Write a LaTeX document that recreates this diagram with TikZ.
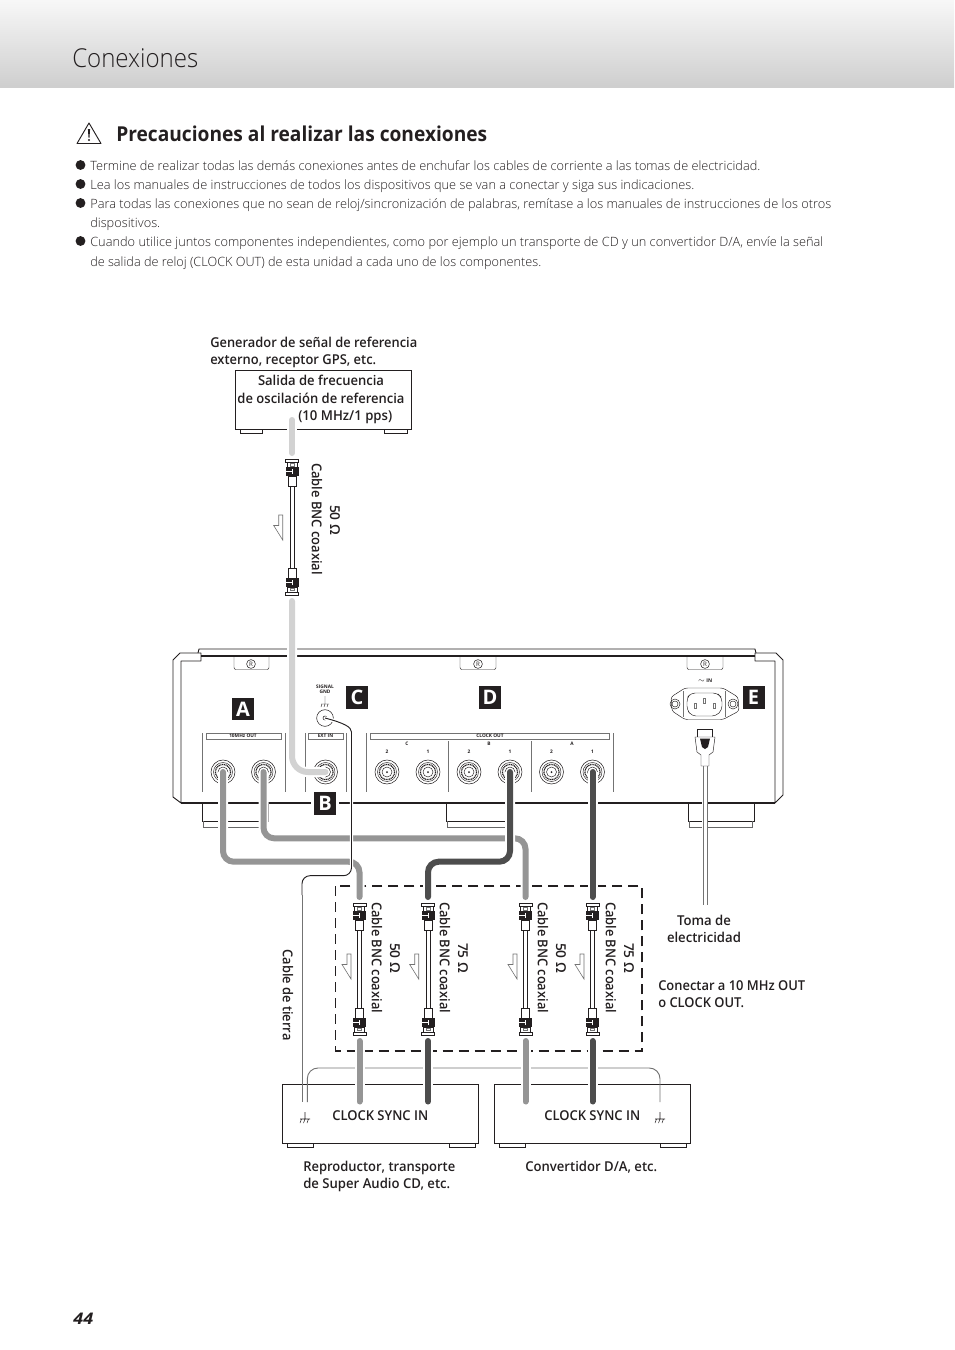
\documentclass[tikz,border=0pt]{standalone}
\usepackage{fontspec}
\usepackage{graphicx}
\setmainfont{Open Sans}
\setsansfont{Open Sans}
\newfontfamily\lightf{Open Sans Light}
\newfontfamily\semif{Open Sans Semibold}
\usetikzlibrary{calc}
\newdimen\pxu \pxu=.75pt
\newcommand\fitw[2]{\resizebox{#1\pxu}{\height}{#2}}
\definecolor{cabmid}{HTML}{959595}
\definecolor{cabdark}{HTML}{4D4D4D}
\definecolor{cablight}{HTML}{D2D2D2}
\definecolor{inkk}{HTML}{231F20}
\tikzset{
  lab/.style={inner sep=0,font=\fontsize{10.2pt}{12pt}\semif,text=inkk},
  body/.style={inner sep=0,anchor=base west,font=\fontsize{9.6pt}{12pt}\lightf,text=inkk},
  tiny/.style={inner sep=0,font=\fontsize{3.6pt}{4pt}\selectfont\bfseries,text=inkk},
  bigsq/.style={fill=inkk,text=white,inner sep=0,minimum width=16.5pt,minimum height=17pt,font=\fontsize{15pt}{16pt}\selectfont\bfseries},
  bul/.style={circle,fill=inkk,inner sep=0,minimum size=7.4pt},
  cable/.style={line width=4.5pt,line cap=round,preaction={draw=white,line width=7.5pt,line cap=butt}},
  thinw/.style={line width=.7pt,draw=inkk},
  fine/.style={line width=.35pt,draw=inkk},
  hair/.style={line width=.3pt,draw=black!55},
  devbox/.style={draw=inkk,line width=.7pt,fill=white},
  jackr/.style={circle,draw=inkk,line width=.4pt,inner sep=0,minimum size=18pt,fill=white},
  halo/.style={preaction={draw=white,line width=2.6pt}},
}
% BNC connector head, drawn from its cap (0,0) toward +y
\newcommand\bnchead{%
  \draw[fine,fill=white] (-6.5,0) rectangle (6.5,3);
  \draw[fine,fill=white] (-5,3) rectangle (5,8);
  \draw[hair] (-2,4.5) rectangle (2,7);
  \fill[inkk] (-6.5,8) rectangle (6.5,17);
  \draw[white,line width=.6pt] (-6.5,12.5) -- (0,12.5) (0,10) -- (0,15);
  \draw[fine,fill=white] (-4,17) rectangle (4,27);
}
\newcommand\bnccable[3]{%
  \draw[fine,fill=white] ({#1-2},{#2+27}) rectangle ({#1+2},{#3-27});
  \begin{scope}[shift={(#1,#2)}]\bnchead\end{scope}
  \begin{scope}[shift={(#1,#3)},yscale=-1]\bnchead\end{scope}
}
% half arrow, right edge x, top y
\newcommand\halfarrow[3][1]{%
  \draw[hair,line width=.45pt,fill=white] (#2-4,#3) -- (#2,#3) -- (#2,#3+25) -- (#2-9,#3+10.5) -- (#2-4,#3+10.5) -- cycle;
}
\newcommand\gndsym[2]{%
  \draw[inkk,line width=.4pt] (#1,#2) -- (#1,#2+7) (#1-5,#2+7) -- (#1+5,#2+7)
    (#1-3.5,#2+7) -- (#1-5,#2+11) (#1,#2+7) -- (#1-1.5,#2+11) (#1+3.5,#2+7) -- (#1+2,#2+11);
}
\newcommand\jack[3]{%
  \node[jackr,minimum size=18pt] (#1) at (#2,#3) {};
  \draw[fine] (#2,#3) circle (9.5);
  \draw[inkk,line width=.9pt,dash pattern=on .8pt off .5pt] (#2,#3) circle (7.6);
  \draw[fine] (#2,#3) circle (5);
  \fill[inkk] (#2,#3) circle (1);
}
\newcommand\rtab[3]{%
  \draw[fine,rounded corners=1.5pt] (#1,656) -- (#1,669.5) -- (#2,669.5) -- (#2,656);
  \draw[line width=.4pt,draw=inkk] (#3,664) circle (4.4);
  \node[inner sep=0,font=\fontsize{4.6pt}{5pt}\selectfont,text=inkk] (rm#3) at (#3,664) {R};
}
\newcommand\foot[2]{%
  \draw[fine,line width=.6pt] (#1,804) -- (#1,821) -- (#2,821) -- (#2,804);
  \draw[draw=black!60,line width=.6pt] (#1+1.5,821) -- (#1+1.5,827) -- (#2-1.5,827) -- (#2-1.5,821);
}
\begin{document}
\begin{tikzpicture}[x=.75pt,y=-.75pt]
\path[use as bounding box] (0,0) rectangle (954,1350);
% header band
\shade[top color=white!97!black,bottom color=white!81!black] (0,0) rectangle (954,87);
\node[anchor=base west,inner sep=0,font=\fontsize{19.5pt}{22pt}\lightf,text=inkk] (title) at (72,67) {\fitw{126}{Conexiones}};
% caution heading
\draw[inkk,line width=.7pt,line join=round] (89,123) -- (101,143.5) -- (77,143.5) -- cycle;
\fill[inkk] (87.9,129) -- (90.1,129) -- (89.5,137.5) -- (88.5,137.5) -- cycle;
\fill[inkk] (89,140) circle (1.2);
\node[anchor=base west,inner sep=0,font=\fontsize{15.4pt}{18pt}\selectfont\bfseries,text=inkk] (head) at (116,141) {\fitw{371}{Precauciones al realizar las conexiones}};
% bullets
\node[bul] (b1) at (80.5,165) {};
\node[bul] (b2) at (80.5,184) {};
\node[bul] (b3) at (80.5,203) {};
\node[bul] (b4) at (80.5,241) {};
\node[body] (l1) at (90,170) {\fitw{670}{Termine de realizar todas las demás conexiones antes de enchufar los cables de corriente a las tomas de electricidad.}};
\node[body] (l2) at (90,189) {\fitw{604}{Lea los manuales de instrucciones de todos los dispositivos que se van a conectar y siga sus indicaciones.}};
\node[body] (l3) at (90,208) {\fitw{741}{Para todas las conexiones que no sean de reloj/sincronización de palabras, remítase a los manuales de instrucciones de los otros}};
\node[body] (l4) at (90,227) {\fitw{70}{dispositivos.}};
\node[body] (l5) at (90,246) {\fitw{733}{Cuando utilice juntos componentes independientes, como por ejemplo un transporte de CD y un convertidor D/A, envíe la señal}};
\node[body] (l6) at (90,266) {\fitw{451}{de salida de reloj (CLOCK OUT) de esta unidad a cada uno de los componentes.}};
% reference generator
\node[lab,anchor=base west] (g1) at (210,347) {\fitw{207}{Generador de señal de referencia}};
\node[lab,anchor=base west] (g2) at (210,364) {\fitw{166}{externo, receptor GPS, etc.}};
\draw[devbox] (240,429) rectangle (262.5,433);
\draw[devbox] (384,429) rectangle (407,433);
\draw[devbox] (235.5,370) rectangle (411,429);
\node[lab,anchor=base] (s1) at (321,385) {\fitw{126}{Salida de frecuencia}};
\node[lab,anchor=base] (s2) at (321,403) {\fitw{167}{de oscilación de referencia}};
\node[lab,anchor=base west] (s3) at (298,420) {\fitw{94}{(10 MHz/1 pps)}};
\coordinate (srcout) at (292,420);
\coordinate (srcend) at (292,453);
\bnccable{292}{459}{595}
\halfarrow{282.7}{515}
\node[lab,rotate=-90] (c0a) at (317,519) {\fitw{112}{Cable BNC coaxial}};
\node[lab,rotate=-90] (c0b) at (335,520) {\fitw{30}{50 Ω}};
% main unit
\foot{202}{268}\foot{446}{512}\foot{688}{754}
\draw[inkk,line width=.7pt,line join=round] (198,653) -- (199,649) -- (755,649) -- (756,653);
\draw[inkk,line width=.9pt] (201,656) -- (755,656);
\draw[inkk,line width=.7pt,line join=round] (201,661) -- (181,661) -- (181,803) -- (173,797) -- (173,660) -- (180,653) -- (201,653) -- cycle;
\draw[inkk,line width=.7pt,line join=round] (755,661) -- (775,661) -- (775,803) -- (783,795) -- (783,660) -- (776,653) -- (755,653) -- cycle;
\draw[inkk,line width=1pt] (181,803) -- (775,803);
\rtab{234}{269}{251}\rtab{460}{496}{478}\rtab{687}{723}{705}
% panel labels and dividers
\draw[hair] (205.7,733) rectangle (280.7,739);
\draw[hair] (308,733) rectangle (343,739);
\draw[hair] (370,733) rectangle (609,739);
\draw[hair] (202,733) -- (202,792) (285,733) -- (285,792) (305,733) -- (305,792) (346,733) -- (346,792)
  (366,733) -- (366,792) (448,741) -- (448,792) (530.7,741) -- (530.7,792) (613,733) -- (613,792);
\node[tiny] (t10) at (243,736) {10MHz OUT};
\node[tiny] (tex) at (325.5,736) {EXT IN};
\node[tiny] (tcl) at (490,736) {CLOCK OUT};
\node[tiny] (tC) at (407,744) {C};
\node[tiny] (tB) at (489,744) {B};
\node[tiny] (tA) at (572,744) {A};
\node[tiny] (n1) at (387,752) {2};
\node[tiny] (n2) at (428,752) {1};
\node[tiny] (n3) at (469,752) {2};
\node[tiny] (n4) at (510,752) {1};
\node[tiny] (n5) at (551.5,752) {2};
\node[tiny] (n6) at (592.5,752) {1};
\jack{ja}{223}{772}\jack{jb}{263.5}{772}\jack{jext}{325.5}{772}
\jack{jc2}{387}{772}\jack{jc1}{428}{772}\jack{jb2}{469}{772}\jack{jb1}{510}{772}\jack{ja2}{551.5}{772}\jack{ja1}{592.5}{772}
% signal gnd
\node[tiny] (sg1) at (325,687) {SIGNAL};
\node[tiny] (sg2) at (325,692) {GND};
\draw[inkk,line width=.3pt] (325,696) -- (325,704) (321,704) -- (329,704) (322,704) -- (321,707) (325,704) -- (324,707) (328,704) -- (327,707);
\node[circle,draw=inkk,line width=.4pt,inner sep=0,minimum size=12.5pt] (gt) at (325,718) {};
\draw[inkk,line width=.4pt] (325,718) circle (2);
% inlet
\node[tiny,font=\fontsize{3.8pt}{4pt}\selectfont\bfseries] (acin) at (705,681) {$\sim$ IN};
\draw[fine,line join=round,rounded corners=2pt] (685,688) -- (723,688) -- (738,697) -- (739,711) -- (723,719.5) -- (685,719.5) -- (672,711) -- (671,697) -- cycle;
\draw[hair] (683,691) -- (683,717) (725,691) -- (725,717);
\draw[fine,rounded corners=3pt] (691,693) -- (717,693) -- (722,698) -- (722,710) -- (716,716) -- (692,716) -- (687,710) -- (687,698) -- cycle;
\draw[fine] (675,704) circle (5) (675,704) circle (3) (733,704) circle (5) (733,704) circle (3);
\draw[hair] (703,698.5) rectangle (705.5,703.5) (694,703.5) rectangle (696.5,708.5) (713,703.5) rectangle (715.5,708.5);
% letter tags
\fill[white] (311,800) rectangle (339,806);
\node[bigsq] (A) at (243,709) {A};
\node[bigsq] (B) at (325,803.5) {B};
\node[bigsq] (C) at (357,697.5) {C};
\node[bigsq] (D) at (490,697.5) {D};
\node[bigsq] (E) at (753.5,697.5) {E};
% bottom devices
\draw[devbox] (287,1143) rectangle (313,1147);
\draw[devbox] (449,1143) rectangle (475,1147);
\draw[devbox] (499,1143) rectangle (525,1147);
\draw[devbox] (660,1143) rectangle (686,1147);
\node[draw=inkk,line width=.7pt,fill=white,inner sep=0,minimum width=147pt,minimum height=44.3pt] (dev1) at (380.5,1113.5) {};
\node[draw=inkk,line width=.7pt,fill=white,inner sep=0,minimum width=147pt,minimum height=44.3pt] (dev2) at (592,1113.5) {};
\node[lab,anchor=base west] (cs1) at (332,1120) {\fitw{96}{CLOCK SYNC IN}};
\node[lab,anchor=base west] (cs2) at (544,1120) {\fitw{96}{CLOCK SYNC IN}};
\gndsym{305}{1112}\gndsym{660}{1112}
\node[lab,anchor=base west] (r1) at (303,1171) {\fitw{152}{Reproductor, transporte}};
\node[lab,anchor=base west] (r2) at (303,1188) {\fitw{147}{de Super Audio CD, etc.}};
\node[lab,anchor=base west] (r3) at (525,1171) {\fitw{132}{Convertidor D/A, etc.}};
\node[lab,anchor=base] (p1) at (704,925) {\fitw{54}{Toma de}};
\node[lab,anchor=base] (p2) at (704,942) {\fitw{74}{electricidad}};
\node[lab,anchor=base west] (n10) at (658,990) {\fitw{147}{Conectar a 10 MHz OUT}};
\node[lab,anchor=base west] (n11) at (658,1007) {\fitw{86}{o CLOCK OUT.}};
\node[anchor=base west,inner sep=0,font=\fontsize{12pt}{14pt}\selectfont\bfseries\itshape,text=inkk] (pg) at (73,1324) {\fitw{20}{44}};
% dashed group
\draw[inkk,line width=1pt,dash pattern=on 7.5pt off 4.5pt] (335.7,886) rectangle (642,1051);
% ground loop
\coordinate (gl) at (307.3,1102);
\coordinate (gr) at (660,1102);
\coordinate (gtopl) at (307.3,1068);
\coordinate (gtopr) at (660,1068);
\draw[draw=black!55,line width=.7pt,rounded corners=8pt] (gl) -- (gtopl) -- (gtopr) -- (gr);
% BNC cables in the dashed group
\bnccable{359.5}{903}{1035}
\bnccable{428}{903}{1035}
\bnccable{525.5}{903}{1035}
\bnccable{592.5}{903}{1035}
\halfarrow{351}{954}\halfarrow{418.7}{954}\halfarrow{517}{954}\halfarrow{584}{954}
\node[lab,rotate=-90] (c1a) at (377,957.5) {\fitw{111}{Cable BNC coaxial}};
\node[lab,rotate=-90] (c1b) at (395,958) {\fitw{30}{50 Ω}};
\node[lab,rotate=-90] (c2a) at (445,957.5) {\fitw{111}{Cable BNC coaxial}};
\node[lab,rotate=-90] (c2b) at (463,958) {\fitw{30}{75 Ω}};
\node[lab,rotate=-90] (c3a) at (543,957.5) {\fitw{111}{Cable BNC coaxial}};
\node[lab,rotate=-90] (c3b) at (561,958) {\fitw{30}{50 Ω}};
\node[lab,rotate=-90] (c4a) at (611,957.5) {\fitw{111}{Cable BNC coaxial}};
\node[lab,rotate=-90] (c4b) at (629,958) {\fitw{30}{75 Ω}};
\node[lab,rotate=-90] (gtxt) at (288,995) {\fitw{91}{Cable de tierra}};
% connector endpoints
\coordinate (e1) at (359.5,897);
\coordinate (e2) at (428,897);
\coordinate (e3) at (525.5,897);
\coordinate (e4) at (592.5,897);
\coordinate (i1) at (359.5,1041);
\coordinate (i2) at (428,1041);
\coordinate (i3) at (525.5,1041);
\coordinate (i4) at (592.5,1041);
\coordinate (o1) at (359.5,1101.5);
\coordinate (o2) at (428,1101.5);
\coordinate (o3) at (525.5,1101.5);
\coordinate (o4) at (592.5,1101.5);
\coordinate (top) at (292,601);
\coordinate (lbend) at (292,772);
\coordinate (k1) at (223,861.7);
\coordinate (k2) at (359.5,861.7);
\coordinate (m1) at (263.5,838.3);
\coordinate (m2) at (525.5,838.3);
\coordinate (d1) at (510,861.7);
\coordinate (d2) at (428,861.7);
% cables
\draw[cable,draw=cablight] (srcout) -- (srcend);
\draw[cable,draw=cablight,rounded corners=12pt] (top) -- (lbend) -- (jext.center);
\draw[cable,draw=cabmid,rounded corners=8pt] (ja.center) -- (k1) -- (k2) -- (e1);
\draw[cable,draw=cabmid,rounded corners=8pt] (jb.center) -- (m1) -- (m2) -- (e3);
\draw[cable,draw=cabdark,rounded corners=8pt] (jb1.center) -- (d1) -- (d2) -- (e2);
\draw[cable,draw=cabdark] (ja1.center) -- (e4);
\draw[cable,draw=cabmid] (i1) -- (o1);
\draw[cable,draw=cabdark] (i2) -- (o2);
\draw[cable,draw=cabmid] (i3) -- (o3);
\draw[cable,draw=cabdark] (i4) -- (o4);
% ground wire
\coordinate (gw1) at (351.5,875.7);
\coordinate (gw2) at (302,875.7);
\coordinate (gw3) at (302,895);
\coordinate (gw4) at (302,1102);
\draw[halo,inkk,line width=.7pt,rounded corners=6pt] (gt.center) .. controls (344,723) and (351.5,727) .. (351.5,740) -- (gw1) -- (gw2) -- (gw3);
\draw[draw=black!55,line width=.7pt] (gw3) -- (gw4);
% power cord
\coordinate (cordtop) at (705,766);
\coordinate (cordend) at (705,905);
\draw[line width=3.6pt,white,preaction={draw=white,line width=5pt}] (cordtop) -- (cordend);
\draw[hair,line width=.5pt] (703,766) -- (703,905) (707,766) -- (707,905);
\draw[fine,fill=white] (697,729) rectangle (712,737);
\draw[fine,fill=white,line join=round] (695,737) -- (697,752) -- (701,755) -- (701,766) -- (709,766) -- (709,755) -- (713,752) -- (715,737) -- cycle;
\fill[inkk] (700,738.5) -- (710,738.5) -- (708,747) -- (705,749) -- (702,747) -- cycle;
\end{tikzpicture}
\end{document}
